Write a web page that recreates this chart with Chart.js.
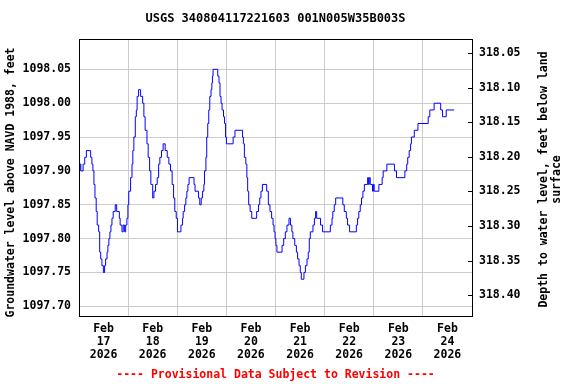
<!DOCTYPE html>
<html>
<head>
    <title>USGS Groundwater Level</title>
    <script src="https://cdn.jsdelivr.net/npm/chart.js"></script>
    <style>
        html, body { margin: 0; padding: 0; background: #fff; }
    </style>
</head>
<body>
    <canvas id="gwChart" width="576" height="384"></canvas>

    <script>
    const siteTitle = 'USGS 340804117221603 001N005W35B003S';
    const leftTitle = 'Groundwater level above NAVD 1988, feet';
    const rightTitle = ['Depth to water level, feet below land', 'surface'];
    const footNote = '---- Provisional Data Subject to Revision ----';

    // one label per day, starting Feb 17 2026
    const dayLabels = ['17', '18', '19', '20', '21', '22', '23', '24'];
    const levelTicks = [1097.70, 1097.75, 1097.80, 1097.85, 1097.90, 1097.95, 1098.00, 1098.05];
    const depthTicks = [318.05, 318.10, 318.15, 318.20, 318.25, 318.30, 318.35, 318.40];

    // hours after Feb 17 00:00 where the level changes
    const hours = [
        0.0, 0.5, 0.9, 2.0, 2.8, 3.6, 5.7, 6.3, 6.8, 7.3, 7.8, 8.4, 8.9, 9.6, 10.1, 10.6, 11.2, 11.9,
        12.5, 13.0, 13.7, 14.1, 14.6, 15.1, 15.6, 16.1, 16.7, 17.7, 18.4, 19.7, 20.1, 21.0, 21.6, 22.3,
        22.8, 23.4, 23.9, 24.3, 25.2, 25.9, 26.3, 26.8, 27.5, 28.0, 28.4, 29.1, 30.1, 31.1, 31.7, 32.3,
        33.2, 33.8, 34.5, 35.1, 36.0, 36.6, 37.4, 38.2, 38.9, 39.5, 40.3, 41.1, 42.1, 43.1, 43.9, 44.7,
        45.5, 46.2, 46.8, 47.5, 48.1, 49.8, 50.6, 50.9, 51.6, 52.2, 52.7, 53.2, 53.8, 56.2, 56.7, 58.4,
        59.0, 59.7, 60.3, 61.0, 61.3, 62.0, 62.4, 62.9, 63.4, 63.9, 64.5, 64.9, 65.2, 65.5, 67.8, 68.4,
        68.9, 69.4, 69.9, 70.6, 71.1, 71.6, 72.0, 72.7, 75.3, 76.2, 79.9, 80.3, 80.8, 81.5, 82.0, 82.4,
        82.9, 83.6, 84.4, 86.8, 87.7, 88.3, 88.9, 89.6, 91.7, 92.5, 93.3, 94.1, 94.8, 95.3, 95.8, 96.2,
        96.7, 99.2, 100.0, 100.8, 101.6, 102.6, 103.3, 104.0, 104.5, 105.4, 106.2, 106.8, 107.5, 108.1,
        108.6, 109.9, 110.6, 111.4, 112.0, 112.5, 113.0, 114.3, 115.0, 115.6, 116.1, 118.0, 119.0, 122.8,
        123.6, 124.0, 124.7, 125.4, 128.9, 129.6, 130.6, 131.2, 132.2, 135.5, 136.1, 136.7, 137.4, 138.0,
        138.7, 139.4, 141.0, 141.4, 141.8, 142.3, 143.4, 143.8, 144.2, 146.5, 148.1, 148.6, 150.4, 154.1,
        155.1, 159.2, 160.1, 160.6, 161.3, 162.0, 162.4, 163.8, 165.6, 170.6, 171.4, 173.5, 176.7, 177.6,
        179.4, 183.3
    ];
    const levels = [
        1097.90, 1097.91, 1097.90, 1097.91, 1097.92, 1097.93, 1097.92, 1097.91, 1097.90, 1097.88, 1097.86, 1097.84, 1097.82, 1097.81, 1097.78, 1097.77, 1097.76, 1097.75,
        1097.76, 1097.77, 1097.78, 1097.79, 1097.80, 1097.81, 1097.82, 1097.83, 1097.84, 1097.85, 1097.84, 1097.83, 1097.82, 1097.81, 1097.82, 1097.81,
        1097.82, 1097.83, 1097.85, 1097.87, 1097.89, 1097.91, 1097.93, 1097.95, 1097.98, 1097.99, 1098.01, 1098.02, 1098.01, 1098.00, 1097.98, 1097.96,
        1097.94, 1097.92, 1097.90, 1097.88, 1097.86, 1097.87, 1097.88, 1097.89, 1097.91, 1097.92, 1097.93, 1097.94, 1097.93, 1097.92, 1097.91, 1097.90,
        1097.88, 1097.86, 1097.84, 1097.83, 1097.81, 1097.82, 1097.83, 1097.84, 1097.85, 1097.86, 1097.87, 1097.88, 1097.89, 1097.88, 1097.87, 1097.86,
        1097.85, 1097.86, 1097.87, 1097.88, 1097.90, 1097.92, 1097.95, 1097.97, 1097.99, 1098.01, 1098.02, 1098.03, 1098.04, 1098.05, 1098.04, 1098.03,
        1098.01, 1098.00, 1097.99, 1097.98, 1097.97, 1097.95, 1097.94, 1097.94, 1097.95, 1097.96, 1097.95, 1097.94, 1097.92, 1097.91, 1097.89, 1097.87,
        1097.85, 1097.84, 1097.83, 1097.84, 1097.85, 1097.86, 1097.87, 1097.88, 1097.87, 1097.85, 1097.84, 1097.83, 1097.82, 1097.81, 1097.80, 1097.79,
        1097.78, 1097.79, 1097.80, 1097.81, 1097.82, 1097.83, 1097.82, 1097.81, 1097.80, 1097.79, 1097.78, 1097.77, 1097.76, 1097.75,
        1097.74, 1097.75, 1097.76, 1097.77, 1097.78, 1097.80, 1097.81, 1097.82, 1097.83, 1097.84, 1097.83, 1097.82, 1097.81, 1097.82,
        1097.83, 1097.84, 1097.85, 1097.86, 1097.85, 1097.84, 1097.83, 1097.82, 1097.81, 1097.82, 1097.83, 1097.84, 1097.85, 1097.86,
        1097.87, 1097.88, 1097.89, 1097.88, 1097.89, 1097.88, 1097.87, 1097.88, 1097.87, 1097.88, 1097.89, 1097.90, 1097.91, 1097.90,
        1097.89, 1097.90, 1097.91, 1097.92, 1097.93, 1097.94, 1097.95, 1097.96, 1097.97, 1097.98, 1097.99, 1098.00, 1097.99, 1097.98,
        1097.99, 1097.99
    ];

    const MONO = '"DejaVu Sans Mono", monospace';
    const tickFont = { family: MONO, size: 11.5, weight: 'bold' };

    // frame, inward ticks on the depth axis, and the titles
    const decorations = {
        id: 'decorations',
        afterDraw(chart) {
            const { ctx, chartArea: a, scales } = chart;
            const l = Math.round(a.left), r = Math.round(a.right);
            const t = Math.round(a.top), b = Math.round(a.bottom);
            const midX = (l + r) / 2, midY = (t + b) / 2;

            ctx.save();
            ctx.strokeStyle = '#000';
            ctx.lineWidth = 1;
            ctx.strokeRect(l + 0.5, t + 0.5, r - l, b - t);

            ctx.beginPath();
            depthTicks.forEach(v => {
                const y = Math.round(scales.y2.getPixelForValue(v)) + 0.5;
                ctx.moveTo(r - 4, y);
                ctx.lineTo(r, y);
            });
            ctx.stroke();

            ctx.fillStyle = '#000';
            ctx.textAlign = 'center';
            ctx.textBaseline = 'middle';
            ctx.font = 'bold 12px ' + MONO;
            ctx.fillText(siteTitle, midX, 19);

            ctx.font = 'bold 11.5px ' + MONO;
            ctx.save();
            ctx.translate(11, midY + 5);
            ctx.rotate(-Math.PI / 2);
            ctx.fillText(leftTitle, 0, 0);
            ctx.restore();

            ctx.save();
            ctx.translate(544, midY + 2);
            ctx.rotate(-Math.PI / 2);
            ctx.fillText(rightTitle[0], 0, 0);
            ctx.fillText(rightTitle[1], 0, 13);
            ctx.restore();

            ctx.fillStyle = '#ff0000';
            ctx.fillText(footNote, midX, 375);
            ctx.restore();
        }
    };

    const ctx = document.getElementById('gwChart').getContext('2d');
    const chart = new Chart(ctx, {
        type: 'line',
        data: {
            datasets: [{
                label: 'Groundwater level',
                data: hours.map((h, i) => ({ x: h, y: levels[i] })),
                borderColor: '#0000ff',
                borderWidth: 1,
                pointRadius: 0,
                stepped: true,
                fill: false,
                yAxisID: 'y'
            }]
        },
        options: {
            responsive: false,
            animation: false,
            layout: { padding: { top: 39, left: 0, right: 0, bottom: 0 } },
            plugins: {
                legend: { display: false },
                tooltip: { enabled: false }
            },
            scales: {
                x: {
                    type: 'linear',
                    min: 0,
                    max: 192,
                    afterBuildTicks: axis => {
                        axis.ticks = [];
                        for (let h = 0; h <= 192; h += 12) axis.ticks.push({ value: h });
                    },
                    afterFit: axis => { axis.height = 68; },
                    border: { display: false },
                    grid: {
                        drawTicks: false,
                        color: c => (c.tick && c.tick.value % 24 === 0 && c.tick.value > 0 && c.tick.value < 192) ? '#cccccc' : 'rgba(0,0,0,0)'
                    },
                    ticks: {
                        autoSkip: false,
                        maxRotation: 0,
                        padding: 7,
                        color: '#000',
                        font: { ...tickFont, lineHeight: '13px' },
                        callback: v => v % 24 === 12 ? ['Feb', dayLabels[Math.floor(v / 24)], '2026'] : ''
                    }
                },
                y: {
                    position: 'left',
                    min: 1097.6857,
                    max: 1098.0948,
                    afterBuildTicks: axis => { axis.ticks = levelTicks.map(v => ({ value: v })); },
                    afterFit: axis => { axis.width = 79; },
                    border: { display: false },
                    grid: { color: '#cccccc', drawTicks: false },
                    ticks: { padding: 8, color: '#000', font: tickFont, callback: v => v.toFixed(2) }
                },
                y2: {
                    position: 'right',
                    reverse: true,
                    min: 318.0298,
                    max: 318.4299,
                    afterBuildTicks: axis => { axis.ticks = depthTicks.map(v => ({ value: v })); },
                    afterFit: axis => { axis.width = 104; },
                    border: { display: false },
                    grid: { drawOnChartArea: false, drawTicks: false },
                    ticks: { padding: 7, color: '#000', font: tickFont, callback: v => v.toFixed(2) }
                }
            }
        },
        plugins: [decorations]
    });
    </script>
</body>
</html>
